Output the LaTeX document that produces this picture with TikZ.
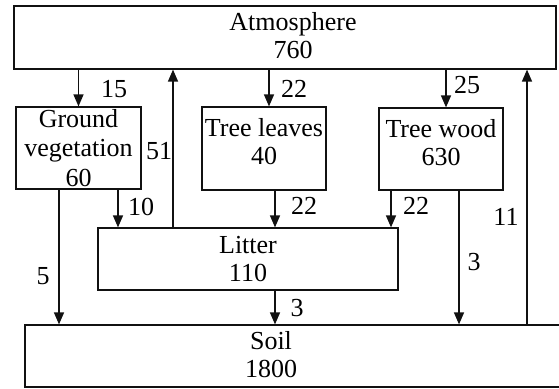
\documentclass[tikz,border=0pt]{standalone}
\usepackage{fontspec}
\setmainfont{Liberation Serif}
\usetikzlibrary{arrows.meta}
\definecolor{Ink}{HTML}{111111}

\begin{document}
\begin{tikzpicture}[x=1pt,y=-1pt,
    pool/.style={rectangle,draw=Ink,line width=1.2pt,align=center,inner sep=0pt,font=\fontsize{26}{28}\selectfont},
    poolname/.style={align=center,inner sep=0pt,font=\fontsize{26}{28}\selectfont},
    flux/.style={draw=Ink,line width=1.4pt,-{Triangle[length=12pt,width=10pt]}},
    val/.style={inner sep=0pt,font=\fontsize{26}{28}\selectfont}]
    \useasboundingbox (0,0) rectangle (559,388);
    % carbon pools
    \node[pool,minimum width=542pt,minimum height=63pt] (atm) at (285,37.5) {};
    \node[poolname] (atmtxt) at (293,36) {Atmosphere\\760};
    \node[pool,minimum width=125pt,minimum height=82pt,font=\fontsize{26}{29.5}\selectfont] (gv) at (78.5,148) {Ground\\vegetation\\60};
    \node[pool,minimum width=124pt,minimum height=83pt,text depth=14pt] (tl) at (264,148.5) {Tree leaves\\40};
    \node[pool,minimum width=124pt,minimum height=82pt,text depth=14pt] (tw) at (441,149) {Tree wood\\630};
    \node[pool,minimum width=300pt,minimum height=62pt] (lit) at (248,259) {Litter\\110};
    \node[pool,minimum width=600pt,minimum height=62pt] (soil) at (325,356) {};
    \node[poolname] (soiltxt) at (271,355) {Soil\\1800};
    % fluxes
    \draw[flux] (gv.north |- atm.south) -- (gv.north);
    \draw[flux] ([xshift=5pt]tl.north |- atm.south) -- ([xshift=5pt]tl.north);
    \draw[flux] ([xshift=5pt]tw.north |- atm.south) -- ([xshift=5pt]tw.north);
    \draw[flux] ([xshift=-75pt]lit.north) -- ([xshift=-75pt]lit.north |- atm.south);
    \draw[flux] ([xshift=202pt]soil.north) -- ([xshift=202pt]soil.north |- atm.south);
    \draw[flux] ([xshift=39.5pt]gv.south) -- ([xshift=39.5pt]gv.south |- lit.north);
    \draw[flux] ([xshift=-19.5pt]gv.south) -- ([xshift=-19.5pt]gv.south |- soil.north);
    \draw[flux] ([xshift=11pt]tl.south) -- ([xshift=11pt]tl.south |- lit.north);
    \draw[flux] ([xshift=-50pt]tw.south) -- ([xshift=-50pt]tw.south |- lit.north);
    \draw[flux] ([xshift=18pt]tw.south) -- ([xshift=18pt]tw.south |- soil.north);
    \draw[flux] ([xshift=27pt]lit.south) -- ([xshift=27pt]lit.south |- soil.north);
    % flux values
    \node[val] (v15) at (114,89) {15};
    \node[val] (v51) at (159,151) {51};
    \node[val] (v22a) at (294,89) {22};
    \node[val] (v25) at (467,85) {25};
    \node[val] (v10) at (141,207) {10};
    \node[val] (v5) at (43,276) {5};
    \node[val] (v22b) at (304,206) {22};
    \node[val] (v22c) at (416,206) {22};
    \node[val] (v3a) at (474,262) {3};
    \node[val] (v11) at (506,217) {11};
    \node[val] (v3b) at (297,308) {3};
\end{tikzpicture}
\end{document}
